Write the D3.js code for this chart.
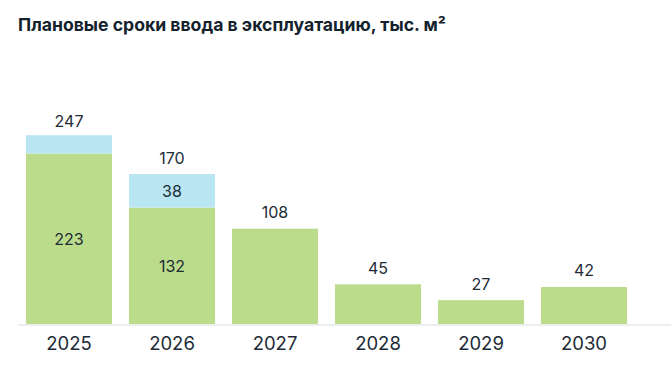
<!DOCTYPE html>
<html>
<head>
<meta charset="utf-8">
<script src="https://cdn.jsdelivr.net/npm/d3@7"></script>
<style>
  html, body { margin: 0; padding: 0; background: #ffffff; }
  svg { display: block; }
  text { font-family: Inter, "Noto Sans", sans-serif; }
</style>
</head>
<body>
<svg id="chart" width="671" height="370"></svg>
<script>
const title = "Плановые сроки ввода в эксплуатацию, тыс. м²";
const years = ["2025", "2026", "2027", "2028", "2029", "2030"];
const mainValues = [223, 132, 108, 45, 27, 42];
const extraValues = [24, 38, 0, 0, 0, 0];
const totals = [247, 170, 108, 45, 27, 42];
// bars taller than this are drawn shrunk to this height (broken scale, as in the original)
const displayCap = 214;

const W = 671, H = 370;
const baseline = 324;
const svg = d3.select("#chart");

svg.append("text")
  .attr("x", 18).attr("y", 30.5)
  .attr("font-size", 17.6).attr("font-weight", 700)
  .attr("fill", "#13222d")
  .text(title);

const x = d3.scaleBand().domain(years).range([17.5, 635.5])
  .paddingInner(0.165).paddingOuter(0.0825);

const y = d3.scaleLinear().domain([0, 170]).range([baseline, 174]);

const data = years.map((yr, i) => {
  const total = totals[i];
  const k = total > displayCap ? displayCap / total : 1;
  return { yr, main: mainValues[i], extra: extraValues[i], total, k };
});
const yy = (d, v) => y(v * d.k);

// axis line
svg.append("line")
  .attr("x1", 18).attr("x2", W).attr("y1", baseline + 1).attr("y2", baseline + 1)
  .attr("stroke", "#eceeef").attr("stroke-width", 2);

const g = svg.append("g");
g.selectAll("rect.main").data(data).join("rect")
  .attr("class", "main")
  .attr("x", d => x(d.yr)).attr("width", x.bandwidth())
  .attr("y", d => yy(d, d.main)).attr("height", d => baseline - yy(d, d.main))
  .attr("fill", "#bbdc8b");

g.selectAll("rect.extra").data(data.filter(d => d.extra > 0)).join("rect")
  .attr("class", "extra")
  .attr("x", d => x(d.yr)).attr("width", x.bandwidth())
  .attr("y", d => yy(d, d.main + d.extra)).attr("height", d => yy(d, d.main) - yy(d, d.main + d.extra))
  .attr("fill", "#b9e6f2");

const labelColor = "#1d2b36";
const stacked = data.filter(d => d.extra > 0);
g.selectAll("text.inMain").data(stacked).join("text")
  .attr("x", d => x(d.yr) + x.bandwidth() / 2)
  .attr("y", d => (yy(d, d.main) + baseline) / 2)
  .attr("dy", "0.36em")
  .attr("text-anchor", "middle").attr("font-size", 16).attr("fill", labelColor)
  .text(d => d.main);
g.selectAll("text.inExtra").data(stacked.filter(d => d.k === 1)).join("text")
  .attr("x", d => x(d.yr) + x.bandwidth() / 2)
  .attr("y", d => (yy(d, d.main) + yy(d, d.main + d.extra)) / 2)
  .attr("dy", "0.36em")
  .attr("text-anchor", "middle").attr("font-size", 16).attr("fill", labelColor)
  .text(d => d.extra);

g.selectAll("text.total").data(data).join("text")
  .attr("x", d => x(d.yr) + x.bandwidth() / 2)
  .attr("y", d => yy(d, d.total) - (d.k < 1 ? 8 : 10.5))
  .attr("text-anchor", "middle").attr("font-size", 16).attr("fill", labelColor)
  .text(d => d.total);

const xAxis = d3.axisBottom(x).tickSize(0).tickPadding(0);
const ax = svg.append("g").attr("transform", `translate(0,${baseline})`).call(xAxis);
ax.select(".domain").remove();
ax.selectAll("text")
  .attr("y", 26).attr("dy", 0)
  .attr("font-size", 18.5).attr("font-family", "Inter, sans-serif").attr("fill", labelColor);
</script>
</body>
</html>
